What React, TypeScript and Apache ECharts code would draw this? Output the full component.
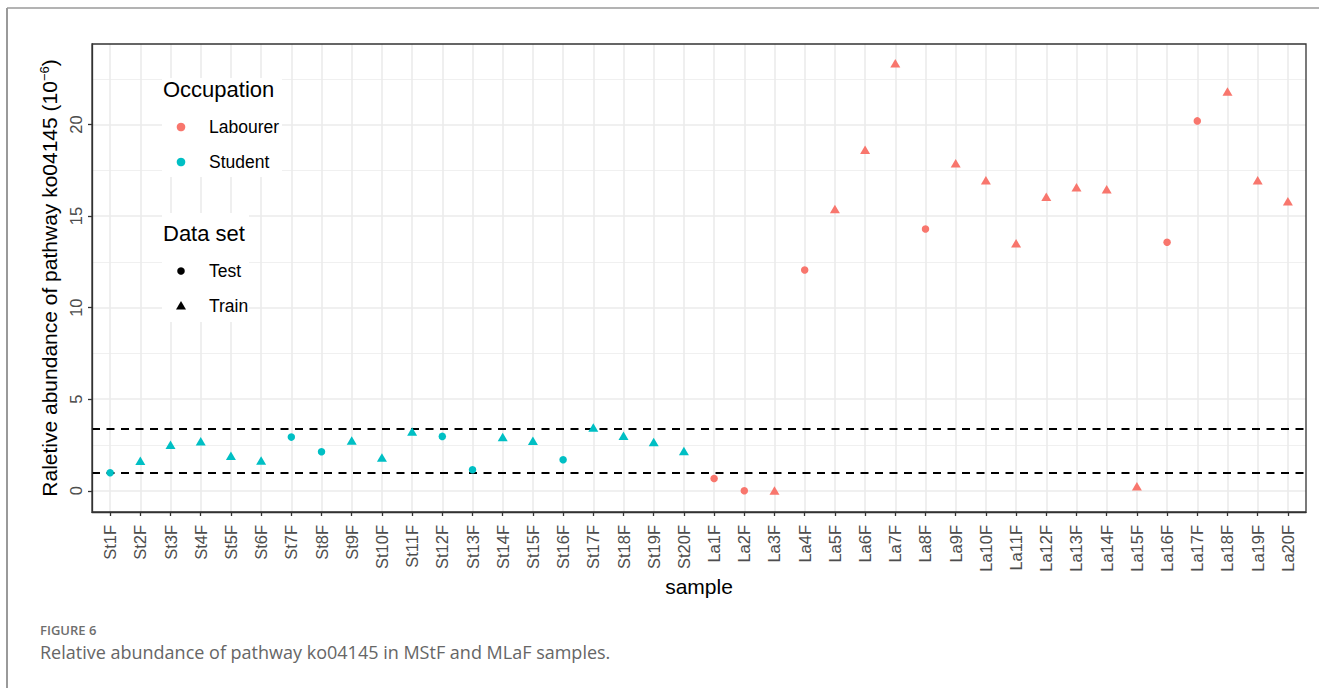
import React, { useEffect, useRef } from "react";
import * as echarts from "echarts";

const categories = [
  "St1F", "St2F", "St3F", "St4F", "St5F", "St6F", "St7F", "St8F", "St9F", "St10F",
  "St11F", "St12F", "St13F", "St14F", "St15F", "St16F", "St17F", "St18F", "St19F", "St20F",
  "La1F", "La2F", "La3F", "La4F", "La5F", "La6F", "La7F", "La8F", "La9F", "La10F",
  "La11F", "La12F", "La13F", "La14F", "La15F", "La16F", "La17F", "La18F", "La19F", "La20F",
];

const values = [
  0.98, 1.64, 2.51, 2.71, 1.91, 1.65, 2.93, 2.13, 2.75, 1.82,
  3.24, 2.97, 1.15, 2.93, 2.73, 1.69, 3.46, 3.0, 2.66, 2.17,
  0.67, 0.0, 0.02, 12.06, 15.39, 18.63, 23.35, 14.3, 17.89, 16.96,
  13.52, 16.06, 16.58, 16.47, 0.24, 13.57, 20.2, 21.8, 16.96, 15.81,
];

const occupation = [
  "Student", "Student", "Student", "Student", "Student", "Student", "Student", "Student", "Student", "Student",
  "Student", "Student", "Student", "Student", "Student", "Student", "Student", "Student", "Student", "Student",
  "Labourer", "Labourer", "Labourer", "Labourer", "Labourer", "Labourer", "Labourer", "Labourer", "Labourer", "Labourer",
  "Labourer", "Labourer", "Labourer", "Labourer", "Labourer", "Labourer", "Labourer", "Labourer", "Labourer", "Labourer",
];

const dataSet = [
  "Test", "Train", "Train", "Train", "Train", "Train", "Test", "Test", "Train", "Train",
  "Train", "Test", "Test", "Train", "Train", "Test", "Train", "Train", "Train", "Train",
  "Test", "Test", "Train", "Test", "Train", "Train", "Train", "Test", "Train", "Train",
  "Train", "Train", "Train", "Train", "Train", "Test", "Test", "Train", "Train", "Train",
];

const yTicks = [0, 5, 10, 15, 20];
const thresholds = [0.98, 3.39];

const occupationLevels = ["Labourer", "Student"];
const occupationColors: Record<string, string> = { Labourer: "#F8766D", Student: "#00BFC4" };
const dataSetLevels = ["Test", "Train"];

const FONT = "'Liberation Sans', Arial, sans-serif";
const CAPTION_FONT = "'Open Sans', sans-serif";

export default function App() {
  const ref = useRef<HTMLDivElement>(null);

  useEffect(() => {
    if (!ref.current) return;
    const chart = echarts.init(ref.current, undefined, { renderer: "svg" });

    const gridLeft = 92;
    const gridTop = 44;
    const gridRight = 1306;
    const gridBottom = 512;

    const series: any[] = [];
    occupationLevels.forEach((occ) => {
      dataSetLevels.forEach((ds) => {
        const data: number[][] = [];
        values.forEach((v, i) => {
          if (occupation[i] === occ && dataSet[i] === ds) data.push([i, v]);
        });
        series.push({
          name: occ + " " + ds,
          type: "scatter",
          data,
          symbol: ds === "Test" ? "circle" : "triangle",
          symbolSize: ds === "Test" ? 7.5 : [10, 8.5],
          itemStyle: { color: occupationColors[occ], opacity: 1 },
          z: 3,
        });
      });
    });

    series.push({
      name: "thresholds",
      type: "scatter",
      data: [],
      markLine: {
        silent: true,
        symbol: "none",
        label: { show: false },
        lineStyle: { color: "#000", type: [8, 6.5], width: 2 },
        data: thresholds.map((t) => ({ yAxis: t })),
        z: 2,
      },
    });

    const legendX = 181;
    const legendTextX = 209;
    const legendGraphics: any[] = [
      { type: "rect", shape: { x: 162, y: 78, width: 120, height: 99 }, style: { fill: "#fff" }, z: 10 },
      { type: "rect", shape: { x: 162, y: 213, width: 87, height: 109 }, style: { fill: "#fff" }, z: 10 },
      {
        type: "text", x: 163, y: 89, z: 11,
        style: { text: "Occupation", fontSize: 22, fontFamily: FONT, fill: "#000", verticalAlign: "middle" },
      },
      {
        type: "text", x: 163, y: 233, z: 11,
        style: { text: "Data set", fontSize: 22, fontFamily: FONT, fill: "#000", verticalAlign: "middle" },
      },
    ];
    occupationLevels.forEach((occ, k) => {
      const cy = 127 + k * 35;
      legendGraphics.push({
        type: "circle", z: 11, shape: { cx: legendX, cy, r: 4.3 }, style: { fill: occupationColors[occ] },
      });
      legendGraphics.push({
        type: "text", x: legendTextX, y: cy, z: 11,
        style: { text: occ, fontSize: 17.5, fontFamily: FONT, fill: "#000", verticalAlign: "middle" },
      });
    });
    dataSetLevels.forEach((ds, k) => {
      const cy = 271 + k * 34.5;
      if (ds === "Test") {
        legendGraphics.push({ type: "circle", z: 11, shape: { cx: legendX, cy, r: 3.8 }, style: { fill: "#000" } });
      } else {
        legendGraphics.push({
          type: "polygon", z: 11,
          shape: { points: [[legendX, cy - 4.5], [legendX + 5, cy + 4], [legendX - 5, cy + 4]] },
          style: { fill: "#000" },
        });
      }
      legendGraphics.push({
        type: "text", x: legendTextX, y: cy, z: 11,
        style: { text: ds, fontSize: 17.5, fontFamily: FONT, fill: "#000", verticalAlign: "middle" },
      });
    });

    const catIdx = categories.map((_, i) => i);

    const option: any = {
      animation: false,
      backgroundColor: "#fff",
      textStyle: { fontFamily: FONT },
      grid: {
        left: gridLeft,
        top: gridTop,
        width: gridRight - gridLeft,
        height: gridBottom - gridTop,
        show: true,
        backgroundColor: "#fff",
        borderWidth: 0,
        containLabel: false,
      },
      xAxis: {
        type: "value",
        min: -0.6,
        max: 39.6,
        splitNumber: 40,
        minInterval: 1,
        maxInterval: 1,
        name: "sample",
        nameLocation: "middle",
        nameGap: 64,
        nameMoveOverlap: false,
        nameTextStyle: { fontSize: 21, color: "#000", fontFamily: FONT },
        axisLine: { show: true, onZero: false, lineStyle: { color: "#333", width: 1.3 } },
        axisTick: {
          show: true,
          length: 4,
          lineStyle: { color: "#333", width: 1.3 },
          customValues: catIdx,
        },
        axisLabel: {
          rotate: 90,
          margin: 13,
          fontSize: 16.5,
          color: "#4D4D4D",
          fontFamily: FONT,
          customValues: catIdx,
          formatter: (v: number) => (Number.isInteger(v) && categories[v] ? categories[v] : ""),
        },
        splitLine: { show: true, lineStyle: { color: "#EBEBEB", width: 1.6 } },
      },
      yAxis: {
        type: "value",
        min: -1.16,
        max: 24.4,
        splitNumber: 5,
        minInterval: 5,
        maxInterval: 5,
        name: "Raletive abundance of pathway ko04145 (10{sup|−6})",
        nameLocation: "middle",
        nameRotate: 90,
        nameGap: 31,
        nameMoveOverlap: false,
        nameTextStyle: {
          fontSize: 21,
          color: "#000",
          fontFamily: FONT,
          rich: {
            sup: { fontSize: 13, fontFamily: FONT, color: "#000", padding: [0, 0, 10, 0] },
          },
        },
        axisLine: { show: true, onZero: false, lineStyle: { color: "#333", width: 1.3 } },
        axisTick: {
          show: true,
          length: 4,
          lineStyle: { color: "#333", width: 1.3 },
          customValues: yTicks,
        },
        axisLabel: {
          rotate: 90,
          margin: 8,
          fontSize: 16.5,
          color: "#4D4D4D",
          fontFamily: FONT,
          customValues: yTicks,
        },
        splitLine: { show: true, lineStyle: { color: "#EBEBEB", width: 1.6 } },
        minorTick: { show: false, splitNumber: 2 },
        minorSplitLine: { show: true, lineStyle: { color: "#F0F0F0", width: 1 } },
      },
      series,
      graphic: [
        {
          type: "rect", z: 20, silent: true,
          shape: { x: gridLeft, y: gridTop, width: gridRight - gridLeft, height: gridBottom - gridTop },
          style: { fill: "none", stroke: "#333", lineWidth: 1.3 },
        },
        ...legendGraphics,
        {
          type: "line", z: 20, shape: { x1: 7, y1: 8, x2: 1319, y2: 8 },
          style: { stroke: "#9a9a9a", lineWidth: 1.5 },
        },
        {
          type: "line", z: 20, shape: { x1: 7, y1: 8, x2: 7, y2: 688 },
          style: { stroke: "#9a9a9a", lineWidth: 2 },
        },
        {
          type: "text", x: 40, y: 630, z: 20,
          style: {
            text: "FIGURE 6", fontSize: 13, fontWeight: 600, fontFamily: CAPTION_FONT,
            fill: "#6e6e6e", verticalAlign: "middle",
          },
        },
        {
          type: "text", x: 40, y: 652, z: 20,
          style: {
            text: "Relative abundance of pathway ko04145 in MStF and MLaF samples.", fontSize: 18,
            fontFamily: CAPTION_FONT, fill: "#666", verticalAlign: "middle",
          },
        },
      ],
    };

    chart.setOption(option);
    return () => chart.dispose();
  }, []);

  return (
    <div
      ref={ref}
      style={{ position: "fixed", left: 0, top: 0, width: 1319, height: 688, background: "#fff" }}
    />
  );
}
